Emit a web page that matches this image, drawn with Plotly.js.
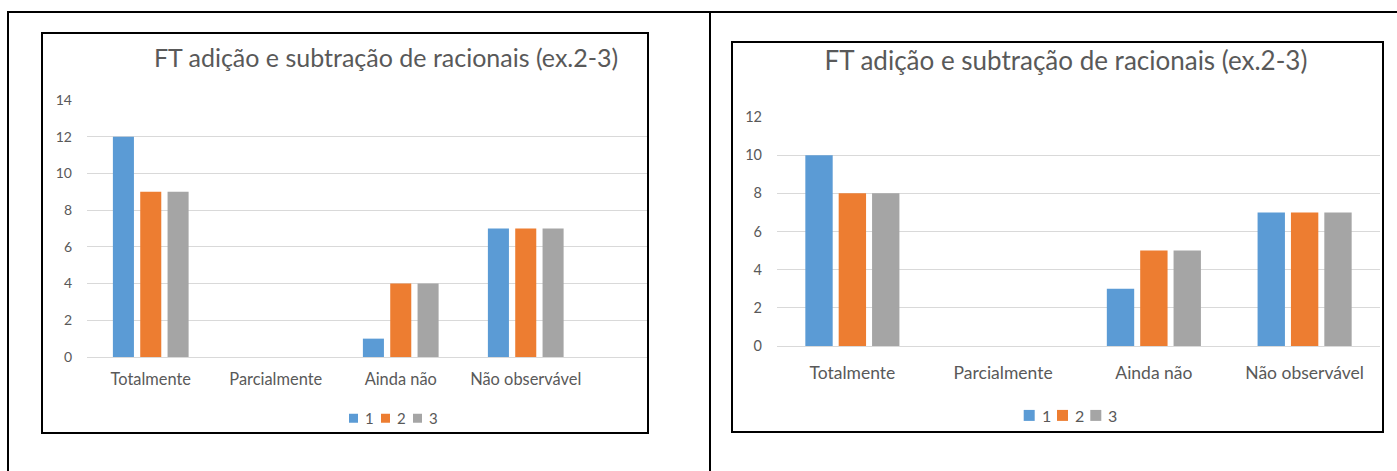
<!DOCTYPE html>
<html>
<head>
<meta charset="utf-8">
<script src="https://cdn.plot.ly/plotly-3.0.1.min.js"></script>
<style>
  body { margin: 0; background: #fff; width: 1397px; height: 471px; overflow: hidden; position: relative; }
  .rule { position: absolute; background: #000; }
  .box { position: absolute; border: 2px solid #000; box-sizing: content-box; background: #fff; }
</style>
</head>
<body>
<!-- table frame -->
<div class="rule" style="left:7px; top:11px; width:1390px; height:2px;"></div>
<div class="rule" style="left:7px; top:11px; width:2px; height:460px;"></div>
<div class="rule" style="left:709px; top:11px; width:2px; height:460px;"></div>

<div class="box" style="left:41px; top:32px; width:604px; height:398px;"><div id="chartA"></div></div>
<div class="box" style="left:731px; top:41px; width:649px; height:388px;"><div id="chartB"></div></div>

<script>
// categories and series
const categories = ['Totalmente', 'Parcialmente', 'Ainda não', 'Não observável'];
const seriesNames = ['1', '2', '3'];
const seriesColors = ['#5B9BD5', '#ED7D31', '#A5A5A5'];
const chartTitle = 'FT adição e subtração de racionais (ex.2-3)';

// first chart
const leftSeries1 = [12, 0, 1, 7];
const leftSeries2 = [9, 0, 4, 7];
const leftSeries3 = [9, 0, 4, 7];
const leftTicks = [0, 2, 4, 6, 8, 10, 12, 14];

// second chart
const rightSeries1 = [10, 0, 3, 7];
const rightSeries2 = [8, 0, 5, 7];
const rightSeries3 = [8, 0, 5, 7];
const rightTicks = [0, 2, 4, 6, 8, 10, 12];

const FONT = 'Lato, "Open Sans", sans-serif';
const TEXT = '#595959';

function drawChart(id, series, ticks, cfg) {
  const W = cfg.width, H = cfg.height, m = cfg.margin;
  const pw = W - m.l - m.r, ph = H - m.t - m.b;
  const px = x => (x - m.l) / pw;
  const py = y => (H - m.b - y) / ph;

  const traces = series.map((vals, i) => ({
    type: 'bar',
    x: categories,
    y: vals,
    name: seriesNames[i],
    marker: { color: seriesColors[i], line: { width: 0 } },
    hoverinfo: 'x+y+name'
  }));

  // compact legend row: swatch + label per series
  const shapes = [], annotations = [];
  seriesNames.forEach((name, i) => {
    const x0 = cfg.legend.x + i * cfg.legend.step;
    shapes.push({
      type: 'rect', xref: 'paper', yref: 'paper', layer: 'above',
      x0: px(x0), x1: px(x0 + cfg.legend.size),
      y0: py(cfg.legend.y + cfg.legend.size / 2), y1: py(cfg.legend.y - cfg.legend.size / 2),
      fillcolor: seriesColors[i], line: { width: 0 }
    });
    annotations.push({
      xref: 'paper', yref: 'paper', showarrow: false,
      x: px(x0 + cfg.legend.size + cfg.legend.gap), y: py(cfg.legend.y),
      xanchor: 'left', yanchor: 'middle', text: name,
      font: { family: FONT, size: cfg.legend.font, color: TEXT }
    });
  });

  const layout = {
    width: W, height: H,
    margin: m,
    paper_bgcolor: '#fff', plot_bgcolor: '#fff',
    showlegend: false,
    barmode: 'group',
    bargap: cfg.bargap,
    bargroupgap: cfg.bargroupgap,
    title: {
      text: chartTitle,
      font: { family: FONT, size: cfg.titleSize, color: TEXT },
      xref: 'container', x: cfg.titleX, xanchor: 'center',
      yref: 'container', y: cfg.titleY, yanchor: 'top'
    },
    xaxis: {
      type: 'category',
      range: cfg.xrange,
      showgrid: false, zeroline: false, showline: false, ticks: '',
      tickfont: { family: FONT, size: cfg.catSize, color: TEXT },
      ticklabelstandoff: cfg.catStandoff,
      fixedrange: true
    },
    yaxis: {
      range: [0, ticks[ticks.length - 1]],
      tickvals: ticks,
      showgrid: true, gridcolor: '#D9D9D9', gridwidth: 1,
      zeroline: true, zerolinecolor: '#D9D9D9', zerolinewidth: 1,
      showline: false, ticks: '',
      tickfont: { family: FONT, size: cfg.tickSize, color: TEXT },
      ticklabelstandoff: cfg.tickStandoff,
      fixedrange: true
    },
    shapes: shapes,
    annotations: annotations
  };

  Plotly.newPlot(id, traces, layout, { displayModeBar: false, staticPlot: true });
}

drawChart('chartA', [leftSeries1, leftSeries2, leftSeries3], leftTicks, {
  width: 604, height: 398,
  margin: { l: 44, r: 0, t: 65.5, b: 75.3, pad: 0 },
  xrange: [-0.51, 3.97],
  bargap: 0.344, bargroupgap: 0.23,
  titleSize: 25, titleX: 0.568, titleY: 0.962,
  catSize: 16.4, catStandoff: 11,
  tickSize: 14, tickStandoff: 14,
  legend: { x: 306, step: 32, size: 9, gap: 5, y: 384, font: 15 }
});

drawChart('chartB', [rightSeries1, rightSeries2, rightSeries3], rightTicks, {
  width: 649, height: 388,
  margin: { l: 44.3, r: 1.7, t: 73.7, b: 85, pad: 0 },
  xrange: [-0.5, 3.5],
  bargap: 0.336, bargroupgap: 0.18,
  titleSize: 26, titleX: 0.513, titleY: 0.977,
  catSize: 17.5, catStandoff: 14,
  tickSize: 14.5, tickStandoff: 14,
  legend: { x: 291, step: 33.3, size: 11, gap: 5, y: 372.5, font: 16 }
});
</script>
</body>
</html>
